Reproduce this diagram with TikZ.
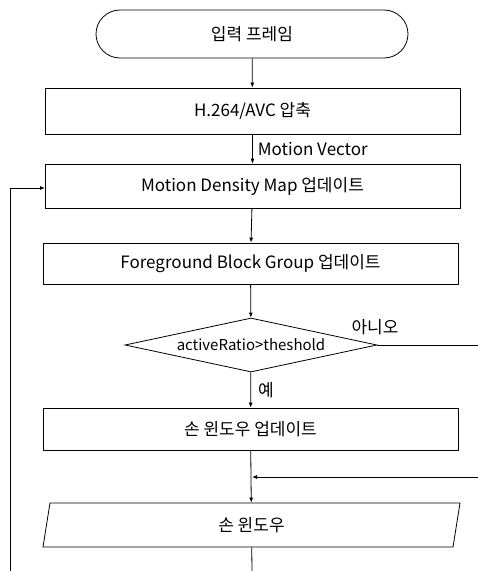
\documentclass[tikz,border=0pt]{standalone}
\usepackage{fontspec}
\setmainfont{Noto Sans CJK KR}
\usetikzlibrary{shapes.geometric,arrows.meta}
\begin{document}
\begin{tikzpicture}[x=1pt,y=-1pt,
  every node/.style={font=\fontsize{17}{19}\selectfont},
  box/.style={draw,line width=0.8pt,minimum width=415pt,minimum height=44pt,inner sep=0pt},
  term/.style={draw,line width=0.8pt,rounded corners=24pt,minimum width=312pt,minimum height=48pt,inner sep=0pt},
  dec/.style={draw,line width=0.8pt,diamond,aspect=4.67,minimum width=252pt,minimum height=54pt,inner sep=0pt,font=\fontsize{15}{17}\selectfont},
  io/.style={draw,line width=0.8pt,trapezium,trapezium left angle=65.6,trapezium right angle=114.4,trapezium stretches body,minimum width=417pt,minimum height=44pt,inner sep=0pt},
  flow/.style={line width=0.8pt,-{Latex[length=5pt,width=4pt]}},
  plain/.style={line width=0.8pt},
  lbl/.style={inner sep=1pt}]
\useasboundingbox (0,0) rectangle (478,571);
\fill[white] (0,0) rectangle (478,571);
\node[term] (start) at (252,34) {입력 프레임};
\node[box, minimum height=46pt] (h264) at (252.5,111) {H.264/AVC 압축};
\node[box] (mdm) at (252.5,186) {Motion Density Map 업데이트};
\node[box, minimum height=41pt] (fbg) at (250.5,263.5) {Foreground Block Group 업데이트};
\node[dec] (cond) at (251,345) {activeRatio>theshold};
\node[box, minimum height=42pt] (hwu) at (250.5,429) {손 윈도우 업데이트};
\node[io] (hw) at (251.5,525) {손 윈도우};
\coordinate (join) at (252,477);
\coordinate (rightA) at (478,345);
\coordinate (rightB) at (478,477);
\coordinate (bottomA) at (252,571);
\coordinate (loopB) at (10,571);
\coordinate (loopT) at (10,188);
\coordinate (mdmL) at (45,188);
\draw[flow] (start) -- (h264);
\draw[flow] (h264) -- node[lbl,right,pos=0.5,xshift=4pt] {Motion Vector} (mdm);
\draw[flow] (mdm) -- (fbg);
\draw[flow] (fbg) -- (cond);
\draw[flow] (cond) -- node[lbl,right,pos=0.5,xshift=6pt] {예} (hwu);
\draw[plain] (cond.east) -- (rightA);
\node[lbl] (no) at (375,327) {아니오};
\draw[flow] (hwu) -- (hw);
\draw[flow] (rightB) -- (join);
\draw[plain] (hw) -- (bottomA);
\draw[flow] (loopB) -- (loopT) -- (mdmL);
\end{tikzpicture}
\end{document}
